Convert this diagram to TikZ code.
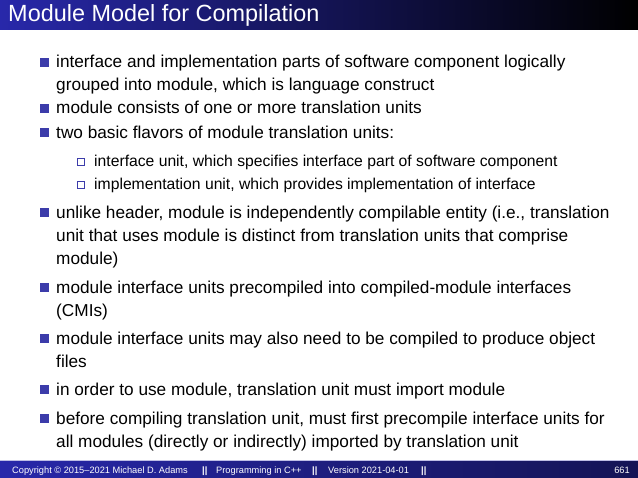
\documentclass[tikz,border=0pt]{standalone}
\usepackage{fontspec}
\setmainfont{Liberation Sans}
\definecolor{bblue}{RGB}{40,40,170}
\definecolor{bul}{RGB}{60,60,170}
\begin{document}
\begin{tikzpicture}[x=0.03cm,y=-0.03cm,
  body/.style={anchor=base west,inner sep=0,font=\fontsize{14.7}{17}\selectfont},
  sub/.style={anchor=base west,inner sep=0,font=\fontsize{13.4}{15}\selectfont},
  foot/.style={anchor=base west,inner sep=0,text=white,font=\fontsize{7.9}{9}\selectfont}]
\useasboundingbox (0,0) rectangle (638,478);
\shade[left color=bblue,right color=black] (0,0) rectangle (638,30);
\node[anchor=west,inner sep=0,text=white,font=\fontsize{20}{23}\selectfont] (title) at (8,15) {Module Model for Compilation};
\shade[left color=bblue,right color=bblue!50!black] (0,460) rectangle (638,478);
\fill[white!70!bblue] (0,460) rectangle (638,461);
\node[foot] (f1) at (12,473) {Copyright © 2015–2021 Michael D. Adams};
\node[foot] (f2) at (202,473) {\textbf{||}};
\node[foot] (f3) at (216,473) {Programming in C++};
\node[foot] (f4) at (312,473) {\textbf{||}};
\node[foot] (f5) at (328,473) {Version 2021-04-01};
\node[foot] (f6) at (421,473) {\textbf{||}};
\node[foot,anchor=base east] (f7) at (630,473) {661};
\foreach \y in {62,108,132,212,287,338,389,418}{\fill[bul] (40,\y-4) rectangle +(9,9);}
\foreach \y in {161,184}{\draw[bul,line width=0.4pt] (77,\y-3) rectangle +(7,7);}
\node[body] (l1) at (56,68) {interface and implementation parts of software component logically};
\node[body] (l2) at (56,91) {grouped into module, which is language construct};
\node[body] (l3) at (56,114) {module consists of one or more translation units};
\node[body] (l4) at (56,138) {two basic flavors of module translation units:};
\node[sub] (s1) at (94,166) {interface unit, which specifies interface part of software component};
\node[sub] (s2) at (94,189) {implementation unit, which provides implementation of interface};
\node[body] (l5) at (56,218) {unlike header, module is independently compilable entity (i.e., translation};
\node[body] (l6) at (56,241) {unit that uses module is distinct from translation units that comprise};
\node[body] (l7) at (56,264) {module)};
\node[body] (l8) at (56,293) {module interface units precompiled into compiled-module interfaces};
\node[body] (l9) at (56,316) {(CMIs)};
\node[body] (l10) at (56,344) {module interface units may also need to be compiled to produce object};
\node[body] (l11) at (56,367) {files};
\node[body] (l12) at (56,395) {in order to use module, translation unit must import module};
\node[body] (l13) at (56,424) {before compiling translation unit, must first precompile interface units for};
\node[body] (l14) at (56,447) {all modules (directly or indirectly) imported by translation unit};
\end{tikzpicture}
\end{document}
